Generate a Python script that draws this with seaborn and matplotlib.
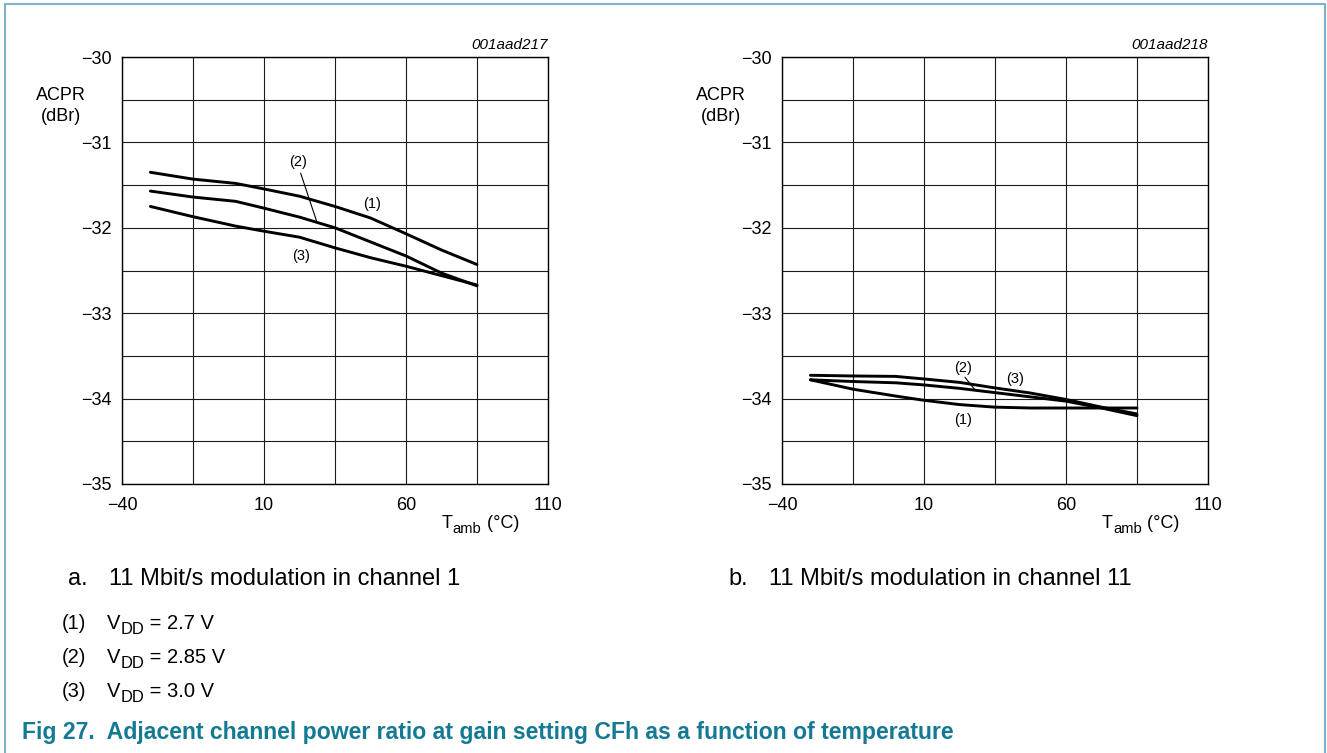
import matplotlib
matplotlib.use("Agg")
import matplotlib.pyplot as plt
from matplotlib.lines import Line2D
from matplotlib.text import Annotation
import seaborn as sns
import pandas as pd

# Ambient temperature sample points (deg C)
temp = [-30, -15, 0, 10, 22.5, 35, 47.5, 60, 72.5, 85]

# a. channel 1 – ACPR (dBr) for each supply voltage
acpr_ch1_27 = [-31.35, -31.43, -31.48, -31.545, -31.63, -31.75, -31.885, -32.07, -32.26, -32.43]
acpr_ch1_285 = [-31.57, -31.64, -31.69, -31.77, -31.875, -32.0, -32.165, -32.33, -32.53, -32.68]
acpr_ch1_30 = [-31.75, -31.87, -31.98, -32.04, -32.11, -32.235, -32.35, -32.45, -32.56, -32.67]

# b. channel 11 – ACPR (dBr) for each supply voltage
acpr_ch11_27 = [-33.78, -33.89, -33.97, -34.02, -34.07, -34.10, -34.11, -34.11, -34.11, -34.11]
acpr_ch11_285 = [-33.78, -33.80, -33.815, -33.84, -33.88, -33.93, -33.98, -34.03, -34.11, -34.20]
acpr_ch11_30 = [-33.727, -33.735, -33.74, -33.77, -33.81, -33.875, -33.935, -34.01, -34.10, -34.18]

x_ticks = [-40, 10, 60, 110]
y_ticks = [-30, -31, -32, -33, -34, -35]
x_ticklabels = ["\u221240", "10", "60", "110"]
y_ticklabels = ["\u221230", "\u221231", "\u221232", "\u221233", "\u221234", "\u221235"]
curve_ids = ["(1)", "(2)", "(3)"]
vdd_values = ["2.7 V", "2.85 V", "3.0 V"]
drawing_codes = ["001aad217", "001aad218"]
caption_marks = ["a.", "b."]
caption_texts = ["11 Mbit/s modulation in channel 1", "11 Mbit/s modulation in channel 11"]
title = "Fig 27.  Adjacent channel power ratio at gain setting CFh as a function of temperature"

sns.set_theme(style="white")
plt.rcParams["font.family"] = ["Liberation Sans", "DejaVu Sans"]
plt.rcParams["text.color"] = "black"

W, H = 1327, 753
fig = plt.figure(figsize=(W / 100, H / 100), dpi=100)
fig.patch.set_facecolor("white")


def px_axes(x0, y0, x1, y1):
    return fig.add_axes([x0 / W, 1 - y1 / H, (x1 - x0) / W, (y1 - y0) / H])


def rich_text(x, y, parts, size, transform):
    """Draw text pieces side by side; pieces flagged True are subscripts."""
    first = fig.text(x, y, parts[0][0], fontsize=size, ha="left", va="baseline",
                     transform=transform)
    prev = first
    for s, sub in parts[1:]:
        fs = size * 0.82 if sub else size
        dy = -size * 0.22 if sub else 0
        ann = Annotation(s, xy=(1, 0), xycoords=(prev, first), xytext=(0, dy),
                         textcoords="offset points", fontsize=fs, ha="left",
                         va="bottom")
        fig.add_artist(ann)
        prev = ann
    return first


def frame(df, ax, code):
    for vid, sub in df.groupby("curve", sort=False):
        sns.lineplot(data=sub, x="T", y="ACPR", ax=ax, color="black",
                     linewidth=2.1, estimator=None, sort=False, legend=False)
    ax.set_xlim(-40, 110)
    ax.set_ylim(-35, -30)
    ax.set_xticks(range(-40, 111, 25))
    ax.set_yticks([-30 - 0.5 * i for i in range(11)])
    ax.grid(True, color="#1a1a1a", linewidth=0.8)
    ax.set_xticklabels(["" for _ in ax.get_xticks()])
    ax.set_yticklabels(["" for _ in ax.get_yticks()])
    ax.tick_params(length=0)
    for s in ax.spines.values():
        s.set_color("black")
        s.set_linewidth(1.0)
    ax.set_xlabel("")
    ax.set_ylabel("")
    # labels at the major values only
    for v, lab in zip(x_ticks, x_ticklabels):
        ax.annotate(lab, xy=(v, -35), xycoords="data", xytext=(0, -13),
                    textcoords="offset pixels", ha="center", va="top", fontsize=13)
    for v, lab in zip(y_ticks, y_ticklabels):
        ax.annotate(lab, xy=(-40, v), xycoords="data", xytext=(-10, -2),
                    textcoords="offset pixels", ha="right", va="center", fontsize=13)
    ax.text(1.0, 1.012, code, transform=ax.transAxes, ha="right", va="bottom",
            fontsize=11, style="italic")
    ax.text(-0.144, 0.885, "ACPR\n(dBr)", transform=ax.transAxes, ha="center",
            va="center", fontsize=13, linespacing=1.3)


def long_frame(series):
    rows = []
    for cid, vals in zip(curve_ids, series):
        for t, a in zip(temp, vals):
            rows.append({"curve": cid, "T": t, "ACPR": a})
    return pd.DataFrame(rows)


df_a = long_frame([acpr_ch1_27, acpr_ch1_285, acpr_ch1_30])
df_b = long_frame([acpr_ch11_27, acpr_ch11_285, acpr_ch11_30])

axes_px = [(122, 57, 548, 484), (782, 57, 1208, 484)]
ax_a = px_axes(*axes_px[0])
frame(df_a, ax_a, drawing_codes[0])
ax_b = px_axes(*axes_px[1])
frame(df_b, ax_b, drawing_codes[1])

# x axis titles with subscript
for (x0, y0, x1, y1) in axes_px:
    rich_text((x0 + 320) / W, 1 - 528 / H,
              [("T", False), ("amb", True), (" (\u00b0C)", False)], 13, fig.transFigure)

# curve identifiers, chart a
ax_a.text(22, -31.23, curve_ids[1], ha="center", va="center", fontsize=10.5)
ax_a.plot([22.9, 28.5], [-31.36, -31.92], color="black", linewidth=0.8)
ax_a.text(47.9, -31.72, curve_ids[0], ha="center", va="center", fontsize=10.5)
ax_a.text(23, -32.33, curve_ids[2], ha="center", va="center", fontsize=10.5)

# curve identifiers, chart b
ax_b.text(23.6, -33.64, curve_ids[1], ha="center", va="center", fontsize=10.5)
ax_b.plot([24.4, 28.0], [-33.75, -33.9], color="black", linewidth=0.8)
ax_b.text(42.0, -33.77, curve_ids[2], ha="center", va="center", fontsize=10.5)
ax_b.text(23.6, -34.245, curve_ids[0], ha="center", va="center", fontsize=10.5)

# sub-captions
for (x0, y0, x1, y1), mark, txt in zip(axes_px, caption_marks, caption_texts):
    fig.text((x0 - 54) / W, 1 - 585 / H, mark, ha="left", va="baseline", fontsize=17)
    fig.text((x0 - 13) / W, 1 - 585 / H, txt, ha="left", va="baseline", fontsize=17)

# supply voltage key
for i, (cid, vdd) in enumerate(zip(curve_ids, vdd_values)):
    yb = 1 - (629 + 34 * i) / H
    fig.text(62 / W, yb, cid, ha="left", va="baseline", fontsize=14.5)
    rich_text(107 / W, yb, [("V", False), ("DD", True), (" = " + vdd, False)],
              14.5, fig.transFigure)

# figure title
fig.text(22 / W, 1 - 739 / H, title, ha="left", va="baseline", fontsize=16.6,
         fontweight="bold", color="#147a94")

# surrounding frame (open at the bottom)
border = "#7db3c6"
for xs, ys in [([5, 5], [753, 4]), ([5, 1325], [4, 4]), ([1325, 1325], [4, 753])]:
    fig.add_artist(Line2D([v / W for v in xs], [1 - v / H for v in ys], color=border,
                          linewidth=1.5, transform=fig.transFigure))

fig.savefig("out.png", dpi=100)
